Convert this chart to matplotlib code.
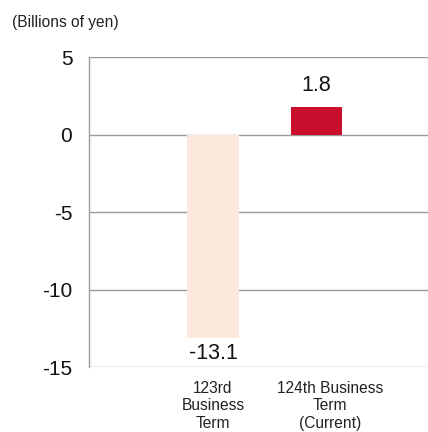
import matplotlib.pyplot as plt

plt.rcParams["font.family"] = ["Liberation Sans", "DejaVu Sans"]

# Net income by business term (billions of yen)
terms = ["123rd\nBusiness\nTerm", "124th Business\nTerm\n(Current)"]
values = [-13.1, 1.8]
bar_colors = ["#FCE9DE", "#C8102E"]
yticks = [5, 0, -5, -10, -15]

fig = plt.figure(figsize=(4.28, 4.32), dpi=100)
ax = fig.add_axes([0.208, 0.150, 0.792, 0.718])

x = list(range(len(values)))
ax.bar(x, values, width=0.5, color=bar_colors, zorder=3)

ax.set_xlim(-1.198, 2.077)
ax.set_ylim(-15, 5)
ax.set_yticks(yticks)
ax.set_yticklabels([str(v) for v in yticks], fontsize=15, color="#111111")
ax.tick_params(axis="y", length=0, pad=12)
ax.set_xticks([])

for y in yticks:
    ax.axhline(y, color="#9a9a9a", linewidth=1.0, zorder=1)

for side in ["top", "right", "bottom"]:
    ax.spines[side].set_visible(False)
ax.spines["left"].set_color("#9a9a9a")
ax.spines["left"].set_linewidth(1.0)

# value labels above / below each bar
for xi, v in zip(x, values):
    if v >= 0:
        ax.annotate(f"{v:.1f}", (xi, v), xytext=(0, 8), textcoords="offset points",
                    ha="center", va="bottom", fontsize=15.5, color="#111111")
    else:
        ax.annotate(f"{v:.1f}", (xi, v), xytext=(0, -4), textcoords="offset points",
                    ha="center", va="top", fontsize=15.5, color="#111111")

# category labels under the axis
label_shift = [0.0, 0.13]
for xi, name, dx in zip(x, terms, label_shift):
    ax.annotate(name, (xi + dx, -15), xytext=(0, -10), textcoords="offset points",
                ha="center", va="top", fontsize=11.2, color="#222222",
                linespacing=1.2, annotation_clip=False)

fig.text(12 / 428, 1 - 22 / 432, "(Billions of yen)", ha="left", va="center",
         fontsize=11.2, color="#222222")

fig.savefig("out.png", dpi=100)
